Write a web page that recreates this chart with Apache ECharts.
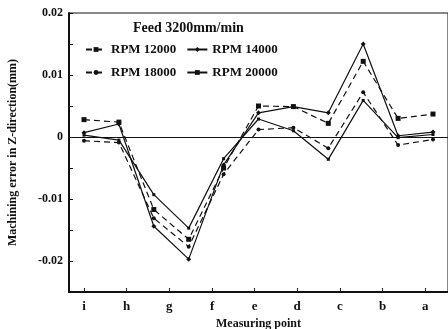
<!DOCTYPE html>
<html>
<head>
<meta charset="utf-8">
<script src="https://cdn.jsdelivr.net/npm/echarts@6/dist/echarts.min.js"></script>
<style>
  html, body {margin: 0; padding: 0; background: #fff;}
  #chart {width: 448px; height: 329px;}
</style>
</head>
<body>
<div id="chart"></div>
<script>
// measuring points (tick labels) and where their ticks sit on the point-index scale
const measureLabels = ['i', 'h', 'g', 'f', 'e', 'd', 'c', 'b', 'a'];
const labelPos = [0, 1.22, 2.44, 3.67, 4.89, 6.11, 7.33, 8.56, 9.78];

// sampled positions along the part
const pointIdx = [0, 1, 2, 3, 4, 5, 6, 7, 8, 9, 10];

// Z-direction error (mm)
const rpm12000 = [0.0028, 0.0024, -0.0117, -0.0165, -0.0050, 0.0050, 0.0049, 0.0022, 0.0122, 0.0030, 0.0037];
const rpm14000 = [0.0007, 0.0021, -0.0144, -0.0197, -0.0045, 0.0039, 0.0049, 0.0039, 0.0150, 0.0002, 0.0008];
const rpm18000 = [-0.0006, -0.0009, -0.0131, -0.0177, -0.0060, 0.0012, 0.0015, -0.0018, 0.0072, -0.0013, -0.0004];
const rpm20000 = [0.0003, -0.0005, -0.0093, -0.0147, -0.0035, 0.0029, 0.0010, -0.0036, 0.0059, -0.0001, 0.0004];

const yTicks = [-0.02, -0.01, 0, 0.01, 0.02];

const font = 'Liberation Serif';
const ink = '#111';

const pairs = (ys) => pointIdx.map((x, i) => [x, ys[i]]);

const mkSeries = (name, ys, dashed, symbol, size) => ({
  name,
  type: 'line',
  data: pairs(ys),
  symbol,
  symbolSize: size,
  itemStyle: {color: ink},
  lineStyle: {color: ink, width: 1.2, type: dashed ? [6, 4] : 'solid'},
  emphasis: {disabled: true},
  z: 3
});

const chart = echarts.init(document.getElementById('chart'), null, {renderer: 'canvas'});

const series = [
  mkSeries('RPM 12000', rpm12000, true, 'rect', 5),
  mkSeries('RPM 14000', rpm14000, false, 'diamond', 5),
  mkSeries('RPM 18000', rpm18000, true, 'circle', 4),
  mkSeries('RPM 20000', rpm20000, false, 'rect', 3)
];
// zero reference line
series[0].markLine = {
  silent: true,
  symbol: 'none',
  label: {show: false},
  lineStyle: {color: ink, width: 1.2, type: 'solid'},
  data: [{yAxis: 0}]
};

chart.setOption({
  animation: false,
  backgroundColor: '#fff',
  textStyle: {fontFamily: font, color: ink},
  title: {
    text: 'Feed 3200mm/min',
    left: 128,
    top: 16,
    textStyle: {fontFamily: font, fontWeight: 'bold', fontSize: 14, color: ink}
  },
  legend: {
    left: 80,
    top: 38,
    width: 200,
    itemWidth: 20,
    itemHeight: 6,
    itemGap: 10,
    textStyle: {fontFamily: font, fontWeight: 'bold', fontSize: 13, color: ink},
    data: ['RPM 12000', 'RPM 14000', 'RPM 18000', 'RPM 20000']
  },
  grid: {
    left: 69, right: 0, top: 13, bottom: 37,
    containLabel: false,
    outerBoundsMode: 'none',
    show: true, borderColor: ink, borderWidth: 1
  },
  xAxis: {
    type: 'value',
    min: -0.43,
    max: 10.43,
    name: 'Measuring point',
    nameLocation: 'middle',
    nameGap: 26,
    nameTextStyle: {fontFamily: font, fontWeight: 'bold', fontSize: 12, color: ink},
    axisLine: {show: true, onZero: false, lineStyle: {color: ink, width: 2}},
    axisTick: {show: true, inside: true, length: 4, customValues: labelPos, lineStyle: {color: ink}},
    axisLabel: {
      customValues: labelPos,
      margin: 8,
      fontFamily: font,
      fontWeight: 'bold',
      fontSize: 13,
      color: ink,
      formatter: (v) => {
        const j = labelPos.findIndex(p => Math.abs(p - v) < 0.01);
        return j >= 0 ? measureLabels[j] : '';
      }
    },
    splitLine: {show: false}
  },
  yAxis: {
    type: 'value',
    min: -0.025,
    max: 0.02,
    interval: 0.005,
    name: 'Machining error in Z-direction(mm)',
    nameLocation: 'middle',
    nameGap: 50,
    nameTextStyle: {fontFamily: font, fontWeight: 'bold', fontSize: 12, color: ink},
    axisLine: {show: true, onZero: false, lineStyle: {color: ink, width: 2}},
    axisTick: {show: true, inside: true, length: 4, lineStyle: {color: ink}},
    axisLabel: {
      margin: 6,
      fontFamily: font,
      fontWeight: 'bold',
      fontSize: 12,
      color: ink,
      formatter: (v) => {
        const t = yTicks.find(k => Math.abs(k - v) < 1e-6);
        return t === undefined ? '' : (t === 0 ? '0' : String(t));
      }
    },
    splitLine: {show: false}
  },
  series
});
</script>
</body>
</html>
